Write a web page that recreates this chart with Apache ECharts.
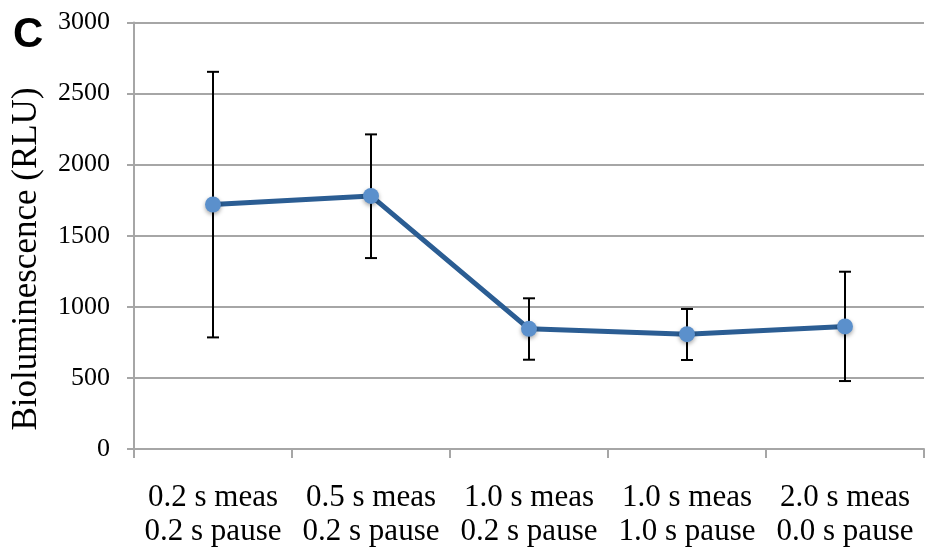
<!DOCTYPE html>
<html>
<head>
<meta charset="utf-8">
<script src="https://cdn.jsdelivr.net/npm/echarts@6/dist/echarts.min.js"></script>
<style>
html,body{margin:0;padding:0;background:#fff;}
#chart{width:927px;height:554px;}
</style>
</head>
<body>
<div id="chart"></div>
<script>
// categories (two-line labels)
const categories = [
    '0.2 s meas\n0.2 s pause',
    '0.5 s meas\n0.2 s pause',
    '1.0 s meas\n0.2 s pause',
    '1.0 s meas\n1.0 s pause',
    '2.0 s meas\n0.0 s pause'
];
// mean bioluminescence values
const means = [1720, 1780, 845, 808, 862];
// error bar ends
const errLow = [785, 1343, 628, 626, 478];
const errHigh = [2653, 2213, 1060, 985, 1247];

const gridColor = '#a6a6a6';
const serif = '"Liberation Serif", "DejaVu Serif", serif';

let chart = echarts.init(document.getElementById('chart'));

let errData = categories.map(function(c, i) {
    return [i, errLow[i], errHigh[i]];
});

let option = {
    animation:false,
    title:{
        text:'C',
        left:8,
        top:9,
        textStyle:{
            fontFamily:'"Liberation Sans", Arial, sans-serif',
            fontWeight:'bold',
            fontSize:42,
            color:'#000'
        }
    },
    // y axis name drawn as rotated text (sits a bit below the axis middle)
    graphic:[{
        type:'text',
        x:27,
        y:259,
        rotation:Math.PI/2,
        style:{
            text:'Bioluminescence (RLU)',
            font:'35px "Liberation Serif", serif',
            fill:'#000',
            textAlign:'center',
            textVerticalAlign:'middle'
        }
    }],
    grid:{
        left:134,
        right:3,
        top:22.5,
        bottom:105,
        containLabel:false,
        outerBoundsMode:'none'
    },
    xAxis:{
        type:'category',
        data:categories,
        boundaryGap:true,
        axisLine:{lineStyle:{color:gridColor, width:2}},
        axisTick:{show:true, interval:0, length:9, lineStyle:{color:gridColor, width:2}},
        axisLabel:{
            interval:0,
            hideOverlap:false,
            margin:32,
            fontFamily:serif,
            fontSize:31,
            lineHeight:34,
            color:'#000'
        },
        splitLine:{show:false}
    },
    yAxis:{
        type:'value',
        min:0,
        max:3000,
        interval:500,
        axisLine:{show:true, lineStyle:{color:gridColor, width:2}},
        axisTick:{show:true, length:7, lineStyle:{color:gridColor, width:2}},
        axisLabel:{
            margin:24,
            fontFamily:serif,
            fontSize:26,
            color:'#000',
            formatter:function(v) { return String(v); }
        },
        splitLine:{show:true, lineStyle:{color:gridColor, width:2}}
    },
    series:[
        {
            type:'custom',
            z:1,
            data:errData,
            renderItem:function(params, api) {
                let x = api.coord([api.value(0), api.value(1)])[0];
                let lo = api.coord([api.value(0), api.value(1)])[1];
                let hi = api.coord([api.value(0), api.value(2)])[1];
                let half = 6;
                let style = {stroke:'#000', lineWidth:2};
                return {
                    type:'group',
                    children:[
                        {type:'line', shape:{x1:x, y1:hi, x2:x, y2:lo}, style:style},
                        {type:'line', shape:{x1:x-half, y1:hi, x2:x+half, y2:hi}, style:style},
                        {type:'line', shape:{x1:x-half, y1:lo, x2:x+half, y2:lo}, style:style}
                    ]
                };
            }
        },
        {
            type:'line',
            z:2,
            data:means,
            symbol:'circle',
            symbolSize:16,
            lineStyle:{color:'#2b5d93', width:5},
            itemStyle:{
                color:'#5b90cc',
                shadowBlur:4,
                shadowColor:'rgba(0,0,0,0.35)',
                shadowOffsetY:2
            }
        }
    ]
};

chart.setOption(option);
</script>
</body>
</html>
